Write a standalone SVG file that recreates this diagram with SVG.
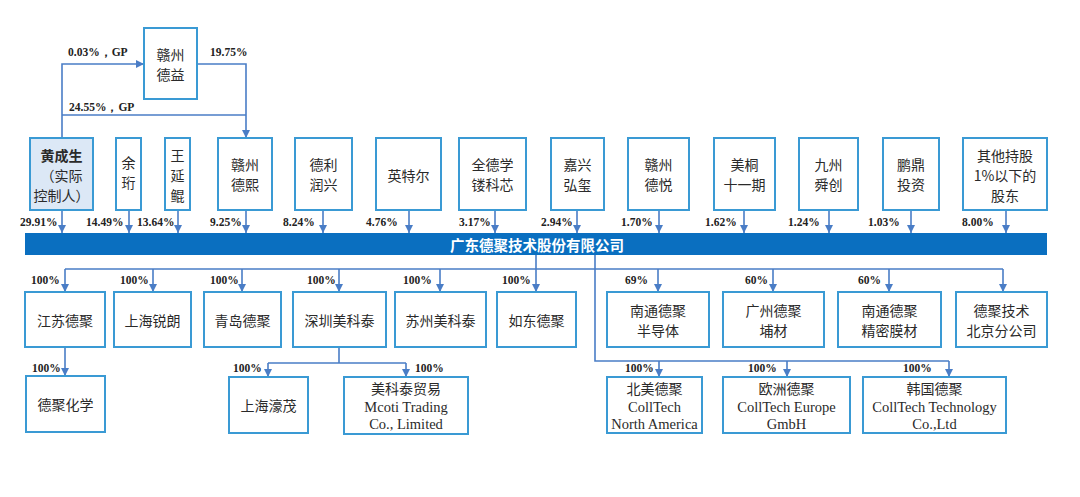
<svg xmlns="http://www.w3.org/2000/svg" width="1080" height="497" viewBox="0 0 1080 497">
<defs>
<style>
.box{fill:#ffffff;stroke:#3a9ad4;stroke-width:2}
.hl{fill:#dce8f6}
.cn{font-family:"Noto Sans CJK SC","Noto Sans",sans-serif;font-size:14px;fill:#2a2a2a;text-anchor:middle;dominant-baseline:central}
.b{font-weight:bold}
.pct{font-family:"Liberation Serif",serif;font-weight:bold;font-size:11.5px;fill:#222;dominant-baseline:central}
.en{font-family:"Liberation Serif",serif;font-size:14.5px;fill:#2a2a2a;text-anchor:middle;dominant-baseline:central}
.ln{fill:none;stroke:#4a7dc6;stroke-width:1.6}
.ar{fill:none;stroke:#4a7dc6;stroke-width:1.6;marker-end:url(#arr)}
.bar{fill:#0a6fc0}
.bt{font-family:"Noto Sans CJK SC",sans-serif;font-size:14.5px;font-weight:bold;fill:#ffffff;text-anchor:middle;dominant-baseline:central}
</style>
<marker id="arr" markerUnits="userSpaceOnUse" markerWidth="8" markerHeight="8" viewBox="0 0 8 8" refX="8" refY="4" orient="auto">
<path d="M0,0 L8,4 L0,8 Z" fill="#4a7dc6"/>
</marker>
</defs>

<g id="connectors">
<path class="ar" d="M62,138 V64 H144"/>
<path class="ar" d="M197,64 H246 V138"/>
<path class="ln" d="M62,115 H246"/>
<path class="ar" d="M62,210 V233"/>
<path class="ar" d="M129,210 V233"/>
<path class="ar" d="M178,210 V233"/>
<path class="ar" d="M246,210 V233"/>
<path class="ar" d="M323,210 V233"/>
<path class="ar" d="M409,210 V233"/>
<path class="ar" d="M495,210 V233"/>
<path class="ar" d="M577,210 V233"/>
<path class="ar" d="M659,210 V233"/>
<path class="ar" d="M744,210 V233"/>
<path class="ar" d="M829,210 V233"/>
<path class="ar" d="M911,210 V233"/>
<path class="ar" d="M1006,210 V233"/>
<path class="ln" d="M536,255 V269 M65,269 H1003"/>
<path class="ar" d="M65,269 V292"/>
<path class="ar" d="M153,269 V292"/>
<path class="ar" d="M242,269 V292"/>
<path class="ar" d="M339,269 V292"/>
<path class="ar" d="M440,269 V292"/>
<path class="ar" d="M536,269 V292"/>
<path class="ar" d="M658,269 V292"/>
<path class="ar" d="M773,269 V292"/>
<path class="ar" d="M889,269 V292"/>
<path class="ar" d="M1003,269 V292"/>
<path class="ln" d="M595,255 V361 H949"/>
<path class="ar" d="M659,361 V377"/>
<path class="ar" d="M787,361 V377"/>
<path class="ar" d="M949,361 V377"/>
<path class="ar" d="M65,347 V376"/>
<path class="ln" d="M339,347 V363 M268,363 H406"/>
<path class="ar" d="M268,363 V377"/>
<path class="ar" d="M406,363 V377"/>
</g>

<g id="labels">
<text class="pct" x="68" y="52">0.03%，GP</text>
<text class="pct" x="210" y="52">19.75%</text>
<text class="pct" x="69" y="107">24.55%，GP</text>
<text class="pct" x="20" y="222">29.91%</text>
<text class="pct" x="86" y="222">14.49%</text>
<text class="pct" x="137" y="222">13.64%</text>
<text class="pct" x="210" y="222">9.25%</text>
<text class="pct" x="283" y="222">8.24%</text>
<text class="pct" x="366" y="222">4.76%</text>
<text class="pct" x="459" y="222">3.17%</text>
<text class="pct" x="541" y="222">2.94%</text>
<text class="pct" x="621" y="222">1.70%</text>
<text class="pct" x="705" y="222">1.62%</text>
<text class="pct" x="788" y="222">1.24%</text>
<text class="pct" x="868" y="222">1.03%</text>
<text class="pct" x="962" y="222">8.00%</text>
<text class="pct" x="31" y="280">100%</text>
<text class="pct" x="120" y="280">100%</text>
<text class="pct" x="210" y="280">100%</text>
<text class="pct" x="307" y="280">100%</text>
<text class="pct" x="403" y="280">100%</text>
<text class="pct" x="502" y="280">100%</text>
<text class="pct" x="625" y="280">69%</text>
<text class="pct" x="745" y="280">60%</text>
<text class="pct" x="858" y="280">60%</text>
<text class="pct" x="32" y="368">100%</text>
<text class="pct" x="233" y="368">100%</text>
<text class="pct" x="415" y="368">100%</text>
<text class="pct" x="625" y="368">100%</text>
<text class="pct" x="748" y="368">100%</text>
<text class="pct" x="903" y="368">100%</text>
</g>

<g id="n-ganzhou-deyi"><rect class="box" x="144" y="28" width="53" height="71"/><text class="cn" x="170.5" y="54">赣州</text><text class="cn" x="170.5" y="74">德益</text></g>

<g id="n-huang"><rect class="box hl" x="30" y="138" width="63" height="72"/><text class="cn b" x="61.5" y="155">黄成生</text><text class="cn" x="61.5" y="175">（实际</text><text class="cn" x="61.5" y="195">控制人）</text></g>
<g id="n-yuheng"><rect class="box" x="116" y="138" width="25" height="72"/><text class="cn" x="128.5" y="162">余</text><text class="cn" x="128.5" y="182">珩</text></g>
<g id="n-wang"><rect class="box" x="165" y="138" width="25" height="72"/><text class="cn" x="177.5" y="155">王</text><text class="cn" x="177.5" y="175">延</text><text class="cn" x="177.5" y="195">鲲</text></g>
<g id="n-ganzhou-dexi"><rect class="box" x="218" y="138" width="54" height="72"/><text class="cn" x="245" y="164">赣州</text><text class="cn" x="245" y="184">德熙</text></g>
<g id="n-delirunxing"><rect class="box" x="295" y="138" width="57" height="72"/><text class="cn" x="323.5" y="164">德利</text><text class="cn" x="323.5" y="184">润兴</text></g>
<g id="n-intel"><rect class="box" x="376" y="138" width="65" height="72"/><text class="cn" x="408.5" y="175">英特尔</text></g>
<g id="n-quande"><rect class="box" x="459" y="138" width="67" height="72"/><text class="cn" x="492.5" y="164">全德学</text><text class="cn" x="492.5" y="184">镂科芯</text></g>
<g id="n-jiaxing"><rect class="box" x="551" y="138" width="53" height="72"/><text class="cn" x="577.5" y="164">嘉兴</text><text class="cn" x="577.5" y="184">弘玺</text></g>
<g id="n-ganzhou-deyue"><rect class="box" x="628" y="138" width="61" height="72"/><text class="cn" x="658.5" y="164">赣州</text><text class="cn" x="658.5" y="184">德悦</text></g>
<g id="n-meitong"><rect class="box" x="714" y="138" width="61" height="72"/><text class="cn" x="744.5" y="164">美桐</text><text class="cn" x="744.5" y="184">十一期</text></g>
<g id="n-jiuzhou"><rect class="box" x="799" y="138" width="59" height="72"/><text class="cn" x="828.5" y="164">九州</text><text class="cn" x="828.5" y="184">舜创</text></g>
<g id="n-pengding"><rect class="box" x="883" y="138" width="56" height="72"/><text class="cn" x="911" y="164">鹏鼎</text><text class="cn" x="911" y="184">投资</text></g>
<g id="n-others"><rect class="box" x="963" y="138" width="84" height="72"/><text class="cn" x="1005" y="155">其他持股</text><text class="cn" x="1005" y="175">1%以下的</text><text class="cn" x="1005" y="195">股东</text></g>

<g id="n-company"><rect class="bar" x="25" y="233" width="1022" height="22"/><text class="bt" x="537" y="244">广东德聚技术股份有限公司</text></g>

<g id="n-jiangsu"><rect class="box" x="25" y="292" width="80" height="55"/><text class="cn" x="65" y="320">江苏德聚</text></g>
<g id="n-shanghai-ruilang"><rect class="box" x="114" y="292" width="77" height="55"/><text class="cn" x="152.5" y="320">上海锐朗</text></g>
<g id="n-qingdao"><rect class="box" x="204" y="292" width="77" height="55"/><text class="cn" x="242.5" y="320">青岛德聚</text></g>
<g id="n-shenzhen"><rect class="box" x="293" y="292" width="93" height="55"/><text class="cn" x="339.5" y="320">深圳美科泰</text></g>
<g id="n-suzhou"><rect class="box" x="395" y="292" width="91" height="55"/><text class="cn" x="440.5" y="320">苏州美科泰</text></g>
<g id="n-rudong"><rect class="box" x="497" y="292" width="79" height="55"/><text class="cn" x="536.5" y="320">如东德聚</text></g>
<g id="n-nantong-semi"><rect class="box" x="607" y="292" width="102" height="55"/><text class="cn" x="658" y="310">南通德聚</text><text class="cn" x="658" y="330">半导体</text></g>
<g id="n-guangzhou"><rect class="box" x="723" y="292" width="101" height="55"/><text class="cn" x="773.5" y="310">广州德聚</text><text class="cn" x="773.5" y="330">埔材</text></g>
<g id="n-nantong-film"><rect class="box" x="838" y="292" width="103" height="55"/><text class="cn" x="889.5" y="310">南通德聚</text><text class="cn" x="889.5" y="330">精密膜材</text></g>
<g id="n-beijing"><rect class="box" x="956" y="292" width="91" height="55"/><text class="cn" x="1001.5" y="310">德聚技术</text><text class="cn" x="1001.5" y="330">北京分公司</text></g>

<g id="n-dejuchem"><rect class="box" x="26" y="376" width="79" height="56"/><text class="cn" x="65.5" y="404">德聚化学</text></g>
<g id="n-shanghai-haomao"><rect class="box" x="229" y="377" width="79" height="56"/><text class="cn" x="268.5" y="405">上海濠茂</text></g>
<g id="n-mcoti"><rect class="box" x="344" y="377" width="124" height="57"/><text class="cn" x="406" y="388">美科泰贸易</text><text class="en" x="406" y="407">Mcoti Trading</text><text class="en" x="406" y="424">Co., Limited</text></g>
<g id="n-na"><rect class="box" x="607" y="377" width="95" height="56"/><text class="cn" x="654.5" y="388">北美德聚</text><text class="en" x="654.5" y="407">CollTech</text><text class="en" x="654.5" y="424">North America</text></g>
<g id="n-eu"><rect class="box" x="723" y="377" width="127" height="56"/><text class="cn" x="786.5" y="388">欧洲德聚</text><text class="en" x="786.5" y="407">CollTech Europe</text><text class="en" x="786.5" y="424">GmbH</text></g>
<g id="n-kr"><rect class="box" x="863" y="377" width="143" height="56"/><text class="cn" x="934.5" y="388">韩国德聚</text><text class="en" x="934.5" y="407">CollTech Technology</text><text class="en" x="934.5" y="424">Co.,Ltd</text></g>
</svg>
